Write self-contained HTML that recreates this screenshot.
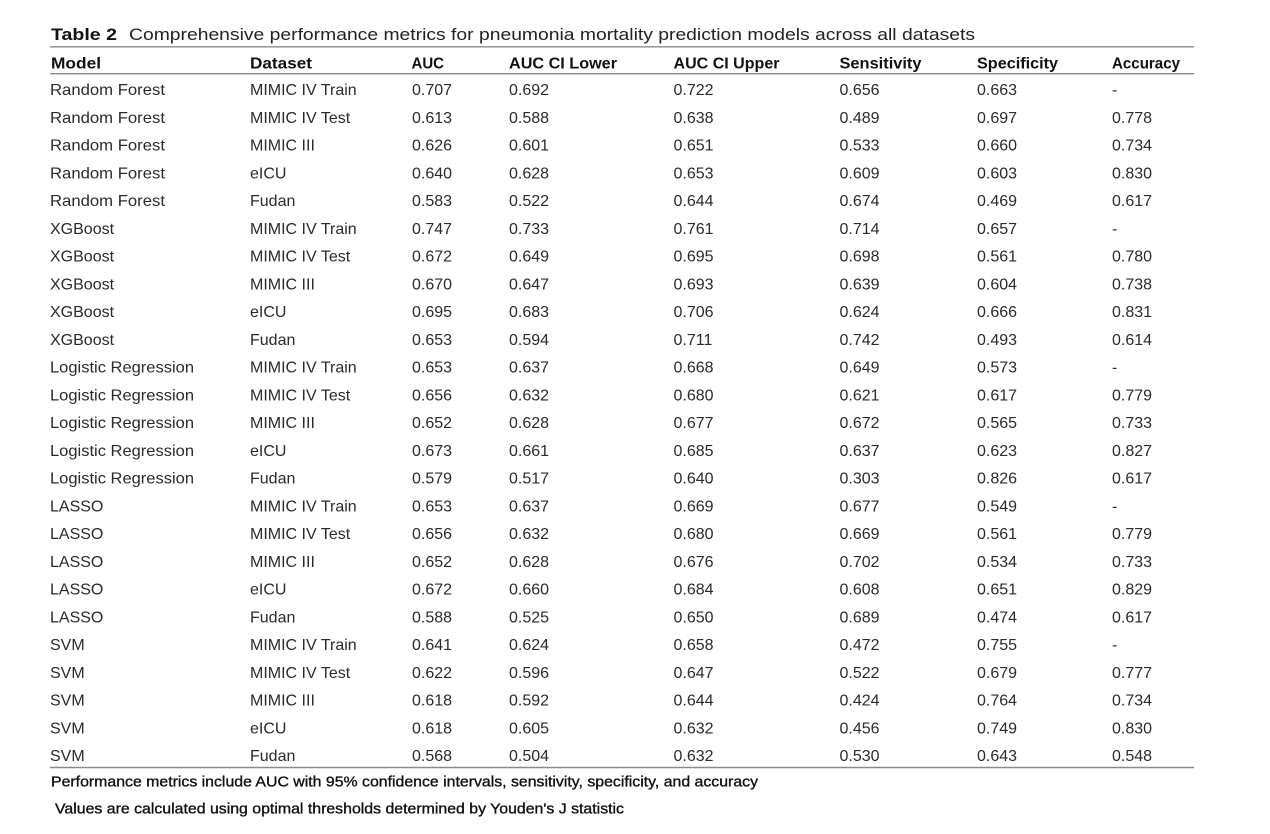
<!DOCTYPE html>
<html>
<head>
<meta charset="utf-8">
<style>
  html, body { margin: 0; padding: 0; background: #ffffff; }
  svg { display: block; }
  text { font-family: "Liberation Sans", sans-serif; }
  .b { font-size: 16px; fill: #2a2a2a; }
  .h { font-size: 16px; font-weight: bold; fill: #111; }
  .f { font-size: 15px; fill: #111; stroke: #111; stroke-width: 0.35; }
</style>
</head>
<body>
<svg width="1270" height="834" viewBox="0 0 1270 834" xmlns="http://www.w3.org/2000/svg">
  <rect width="1270" height="834" fill="#ffffff"/>
  <!-- Title -->
  <text x="51" y="40" style="font-size:17px;font-weight:bold;fill:#111" textLength="66" lengthAdjust="spacingAndGlyphs">Table 2</text>
  <text x="129" y="40" style="font-size:16.5px;fill:#222" textLength="846" lengthAdjust="spacingAndGlyphs">Comprehensive performance metrics for pneumonia mortality prediction models across all datasets</text>

  <!-- Rules -->
  <line x1="50" y1="46.8" x2="1194" y2="46.8" stroke="#8a8a8a" stroke-width="1.4"/>
  <line x1="50" y1="73.7" x2="1194" y2="73.7" stroke="#8a8a8a" stroke-width="1.4"/>
  <line x1="50" y1="767.5" x2="1194" y2="767.5" stroke="#8a8a8a" stroke-width="1.4"/>

  <!-- Header -->
  <g class="h">
    <text x="51" y="68.5" textLength="50" lengthAdjust="spacingAndGlyphs">Model</text>
    <text x="250" y="68.5" textLength="62" lengthAdjust="spacingAndGlyphs">Dataset</text>
    <text x="411.5" y="68.5" textLength="32.5" lengthAdjust="spacingAndGlyphs">AUC</text>
    <text x="509" y="68.5" textLength="108" lengthAdjust="spacingAndGlyphs">AUC CI Lower</text>
    <text x="673.5" y="68.5" textLength="106" lengthAdjust="spacingAndGlyphs">AUC CI Upper</text>
    <text x="839.5" y="68.5" textLength="82" lengthAdjust="spacingAndGlyphs">Sensitivity</text>
    <text x="977" y="68.5" textLength="81" lengthAdjust="spacingAndGlyphs">Specificity</text>
    <text x="1112" y="68.5" textLength="68" lengthAdjust="spacingAndGlyphs">Accuracy</text>
  </g>

  <!-- Body -->
  <g class="b">
    <text x="50" y="95" textLength="115" lengthAdjust="spacingAndGlyphs">Random Forest</text><text x="250" y="95">MIMIC IV Train</text><text x="412" y="95">0.707</text><text x="509" y="95">0.692</text><text x="673.5" y="95">0.722</text><text x="839.5" y="95">0.656</text><text x="977" y="95">0.663</text><text x="1112" y="95">-</text>
    <text x="50" y="122.75" textLength="115" lengthAdjust="spacingAndGlyphs">Random Forest</text><text x="250" y="122.75">MIMIC IV Test</text><text x="412" y="122.75">0.613</text><text x="509" y="122.75">0.588</text><text x="673.5" y="122.75">0.638</text><text x="839.5" y="122.75">0.489</text><text x="977" y="122.75">0.697</text><text x="1112" y="122.75">0.778</text>
    <text x="50" y="150.5" textLength="115" lengthAdjust="spacingAndGlyphs">Random Forest</text><text x="250" y="150.5">MIMIC III</text><text x="412" y="150.5">0.626</text><text x="509" y="150.5">0.601</text><text x="673.5" y="150.5">0.651</text><text x="839.5" y="150.5">0.533</text><text x="977" y="150.5">0.660</text><text x="1112" y="150.5">0.734</text>
    <text x="50" y="178.25" textLength="115" lengthAdjust="spacingAndGlyphs">Random Forest</text><text x="250" y="178.25">eICU</text><text x="412" y="178.25">0.640</text><text x="509" y="178.25">0.628</text><text x="673.5" y="178.25">0.653</text><text x="839.5" y="178.25">0.609</text><text x="977" y="178.25">0.603</text><text x="1112" y="178.25">0.830</text>
    <text x="50" y="206" textLength="115" lengthAdjust="spacingAndGlyphs">Random Forest</text><text x="250" y="206">Fudan</text><text x="412" y="206">0.583</text><text x="509" y="206">0.522</text><text x="673.5" y="206">0.644</text><text x="839.5" y="206">0.674</text><text x="977" y="206">0.469</text><text x="1112" y="206">0.617</text>

    <text x="50" y="233.75">XGBoost</text><text x="250" y="233.75">MIMIC IV Train</text><text x="412" y="233.75">0.747</text><text x="509" y="233.75">0.733</text><text x="673.5" y="233.75">0.761</text><text x="839.5" y="233.75">0.714</text><text x="977" y="233.75">0.657</text><text x="1112" y="233.75">-</text>
    <text x="50" y="261.5">XGBoost</text><text x="250" y="261.5">MIMIC IV Test</text><text x="412" y="261.5">0.672</text><text x="509" y="261.5">0.649</text><text x="673.5" y="261.5">0.695</text><text x="839.5" y="261.5">0.698</text><text x="977" y="261.5">0.561</text><text x="1112" y="261.5">0.780</text>
    <text x="50" y="289.25">XGBoost</text><text x="250" y="289.25">MIMIC III</text><text x="412" y="289.25">0.670</text><text x="509" y="289.25">0.647</text><text x="673.5" y="289.25">0.693</text><text x="839.5" y="289.25">0.639</text><text x="977" y="289.25">0.604</text><text x="1112" y="289.25">0.738</text>
    <text x="50" y="317">XGBoost</text><text x="250" y="317">eICU</text><text x="412" y="317">0.695</text><text x="509" y="317">0.683</text><text x="673.5" y="317">0.706</text><text x="839.5" y="317">0.624</text><text x="977" y="317">0.666</text><text x="1112" y="317">0.831</text>
    <text x="50" y="344.75">XGBoost</text><text x="250" y="344.75">Fudan</text><text x="412" y="344.75">0.653</text><text x="509" y="344.75">0.594</text><text x="673.5" y="344.75">0.711</text><text x="839.5" y="344.75">0.742</text><text x="977" y="344.75">0.493</text><text x="1112" y="344.75">0.614</text>

    <text x="50" y="372.5" textLength="144" lengthAdjust="spacingAndGlyphs">Logistic Regression</text><text x="250" y="372.5">MIMIC IV Train</text><text x="412" y="372.5">0.653</text><text x="509" y="372.5">0.637</text><text x="673.5" y="372.5">0.668</text><text x="839.5" y="372.5">0.649</text><text x="977" y="372.5">0.573</text><text x="1112" y="372.5">-</text>
    <text x="50" y="400.25" textLength="144" lengthAdjust="spacingAndGlyphs">Logistic Regression</text><text x="250" y="400.25">MIMIC IV Test</text><text x="412" y="400.25">0.656</text><text x="509" y="400.25">0.632</text><text x="673.5" y="400.25">0.680</text><text x="839.5" y="400.25">0.621</text><text x="977" y="400.25">0.617</text><text x="1112" y="400.25">0.779</text>
    <text x="50" y="428" textLength="144" lengthAdjust="spacingAndGlyphs">Logistic Regression</text><text x="250" y="428">MIMIC III</text><text x="412" y="428">0.652</text><text x="509" y="428">0.628</text><text x="673.5" y="428">0.677</text><text x="839.5" y="428">0.672</text><text x="977" y="428">0.565</text><text x="1112" y="428">0.733</text>
    <text x="50" y="455.75" textLength="144" lengthAdjust="spacingAndGlyphs">Logistic Regression</text><text x="250" y="455.75">eICU</text><text x="412" y="455.75">0.673</text><text x="509" y="455.75">0.661</text><text x="673.5" y="455.75">0.685</text><text x="839.5" y="455.75">0.637</text><text x="977" y="455.75">0.623</text><text x="1112" y="455.75">0.827</text>
    <text x="50" y="483.5" textLength="144" lengthAdjust="spacingAndGlyphs">Logistic Regression</text><text x="250" y="483.5">Fudan</text><text x="412" y="483.5">0.579</text><text x="509" y="483.5">0.517</text><text x="673.5" y="483.5">0.640</text><text x="839.5" y="483.5">0.303</text><text x="977" y="483.5">0.826</text><text x="1112" y="483.5">0.617</text>

    <text x="50" y="511.25">LASSO</text><text x="250" y="511.25">MIMIC IV Train</text><text x="412" y="511.25">0.653</text><text x="509" y="511.25">0.637</text><text x="673.5" y="511.25">0.669</text><text x="839.5" y="511.25">0.677</text><text x="977" y="511.25">0.549</text><text x="1112" y="511.25">-</text>
    <text x="50" y="539">LASSO</text><text x="250" y="539">MIMIC IV Test</text><text x="412" y="539">0.656</text><text x="509" y="539">0.632</text><text x="673.5" y="539">0.680</text><text x="839.5" y="539">0.669</text><text x="977" y="539">0.561</text><text x="1112" y="539">0.779</text>
    <text x="50" y="566.75">LASSO</text><text x="250" y="566.75">MIMIC III</text><text x="412" y="566.75">0.652</text><text x="509" y="566.75">0.628</text><text x="673.5" y="566.75">0.676</text><text x="839.5" y="566.75">0.702</text><text x="977" y="566.75">0.534</text><text x="1112" y="566.75">0.733</text>
    <text x="50" y="594.5">LASSO</text><text x="250" y="594.5">eICU</text><text x="412" y="594.5">0.672</text><text x="509" y="594.5">0.660</text><text x="673.5" y="594.5">0.684</text><text x="839.5" y="594.5">0.608</text><text x="977" y="594.5">0.651</text><text x="1112" y="594.5">0.829</text>
    <text x="50" y="622.25">LASSO</text><text x="250" y="622.25">Fudan</text><text x="412" y="622.25">0.588</text><text x="509" y="622.25">0.525</text><text x="673.5" y="622.25">0.650</text><text x="839.5" y="622.25">0.689</text><text x="977" y="622.25">0.474</text><text x="1112" y="622.25">0.617</text>

    <text x="50" y="650">SVM</text><text x="250" y="650">MIMIC IV Train</text><text x="412" y="650">0.641</text><text x="509" y="650">0.624</text><text x="673.5" y="650">0.658</text><text x="839.5" y="650">0.472</text><text x="977" y="650">0.755</text><text x="1112" y="650">-</text>
    <text x="50" y="677.75">SVM</text><text x="250" y="677.75">MIMIC IV Test</text><text x="412" y="677.75">0.622</text><text x="509" y="677.75">0.596</text><text x="673.5" y="677.75">0.647</text><text x="839.5" y="677.75">0.522</text><text x="977" y="677.75">0.679</text><text x="1112" y="677.75">0.777</text>
    <text x="50" y="705.5">SVM</text><text x="250" y="705.5">MIMIC III</text><text x="412" y="705.5">0.618</text><text x="509" y="705.5">0.592</text><text x="673.5" y="705.5">0.644</text><text x="839.5" y="705.5">0.424</text><text x="977" y="705.5">0.764</text><text x="1112" y="705.5">0.734</text>
    <text x="50" y="733.25">SVM</text><text x="250" y="733.25">eICU</text><text x="412" y="733.25">0.618</text><text x="509" y="733.25">0.605</text><text x="673.5" y="733.25">0.632</text><text x="839.5" y="733.25">0.456</text><text x="977" y="733.25">0.749</text><text x="1112" y="733.25">0.830</text>
    <text x="50" y="761">SVM</text><text x="250" y="761">Fudan</text><text x="412" y="761">0.568</text><text x="509" y="761">0.504</text><text x="673.5" y="761">0.632</text><text x="839.5" y="761">0.530</text><text x="977" y="761">0.643</text><text x="1112" y="761">0.548</text>
  </g>

  <!-- Footnotes -->
  <text class="f" x="51" y="786.5" textLength="707" lengthAdjust="spacingAndGlyphs">Performance metrics include AUC with 95% confidence intervals, sensitivity, specificity, and accuracy</text>
  <text class="f" x="55" y="813.5" textLength="569" lengthAdjust="spacingAndGlyphs">Values are calculated using optimal thresholds determined by Youden's J statistic</text>
</svg>
</body>
</html>
